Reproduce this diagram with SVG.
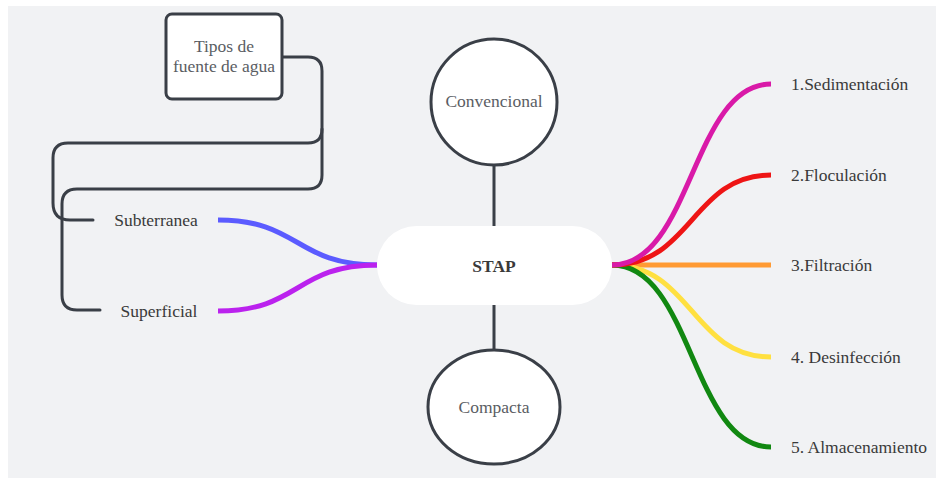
<svg xmlns="http://www.w3.org/2000/svg" width="936" height="478" viewBox="0 0 936 478">
<style>
.t{font-family:"Liberation Serif","Times New Roman",serif;font-size:17.5px;fill:#3a3a3a}
.g{fill:#5a5d63}
.k{fill:none;stroke:#3a3f47;stroke-width:3;stroke-linecap:round;stroke-linejoin:round}
.b{fill:none;stroke-width:5}
</style>
<rect x="0" y="0" width="936" height="478" fill="#ffffff"/>
<rect x="8" y="6" width="928" height="472" fill="#f1f2f4"/>
<g id="connectors">
<path class="k" d="M282,57 H308 Q322,57 322,71 V129 Q322,143 308,143 H68 Q53,143 53,158 V203 Q53,220 70,220 H93"/>
<path class="k" d="M322,129 V175 Q322,189 308,189 H77 Q62,189 62,204 V295 Q62,310 77,310 H100"/>
<path class="k" d="M494,166 V226"/>
<path class="k" d="M494,305 V350"/>
<path class="b" stroke="#5b5bff" d="M218,220 C300,220 295,265 377,265"/>
<path class="b" stroke="#bb22ee" d="M218,311 C300,311 295,265 377,265"/>
<path class="b" stroke="#ff9a33" d="M612,265 H771"/>
<path class="b" stroke="#ffe040" d="M612,265 C692,265 692,357 771,357"/>
<path class="b" stroke="#118811" d="M612,265 C692,265 692,447 771,447"/>
<path class="b" stroke="#ee1515" d="M612,265 C692,265 692,175 771,175"/>
<path class="b" stroke="#d91aa8" d="M612,265 C692,265 692,84 771,84"/>
</g>
<g id="tipos">
<rect x="166" y="14" width="116" height="85" rx="6" fill="#ffffff" stroke="#3a3f47" stroke-width="3"/>
<text class="t g" x="224" y="52" text-anchor="middle">Tipos de</text>
<text class="t g" x="224" y="72" text-anchor="middle">fuente de agua</text>
</g>
<g id="subterranea"><text class="t" x="156" y="226" text-anchor="middle">Subterranea</text></g>
<g id="superficial"><text class="t" x="159" y="317" text-anchor="middle">Superficial</text></g>
<g id="stap">
<rect x="377" y="226" width="235" height="79" rx="39.5" fill="#ffffff"/>
<text class="t" x="494" y="272" text-anchor="middle" font-weight="bold" font-size="19px" fill="#222">STAP</text>
</g>
<g id="convencional">
<circle cx="494" cy="102" r="63" fill="#ffffff" stroke="#3a3f47" stroke-width="3"/>
<text class="t g" x="494" y="107" text-anchor="middle">Convencional</text>
</g>
<g id="compacta">
<ellipse cx="494" cy="407" rx="66" ry="57" fill="#ffffff" stroke="#3a3f47" stroke-width="3"/>
<text class="t g" x="494" y="413" text-anchor="middle">Compacta</text>
</g>
<g id="n1"><text class="t" x="791" y="90">1.Sedimentación</text></g>
<g id="n2"><text class="t" x="791" y="181">2.Floculación</text></g>
<g id="n3"><text class="t" x="791" y="271">3.Filtración</text></g>
<g id="n4"><text class="t" x="791" y="363">4. Desinfección</text></g>
<g id="n5"><text class="t" x="791" y="453">5. Almacenamiento</text></g>
</svg>
